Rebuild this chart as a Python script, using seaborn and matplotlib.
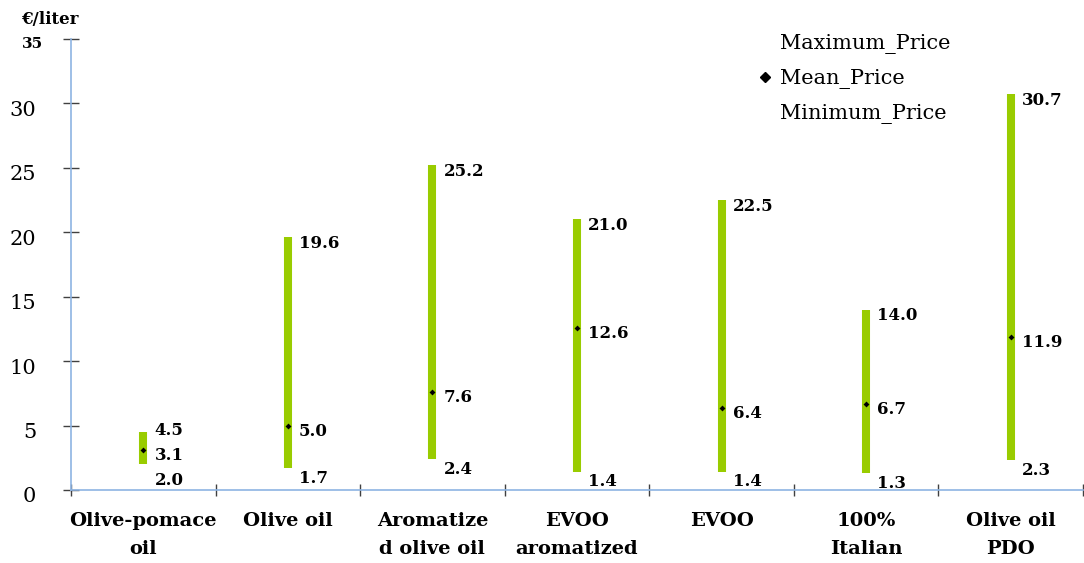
import numpy as np
import pandas as pd
import matplotlib
matplotlib.use("Agg")
import matplotlib.pyplot as plt
from matplotlib.lines import Line2D
from matplotlib.transforms import ScaledTranslation
import seaborn as sns

# Retail olive oil prices by category (EUR per liter)
categories = ["Olive-pomace\noil", "Olive oil", "Aromatize\nd olive oil",
              "EVOO\naromatized", "EVOO", "100%\nItalian", "Olive oil\nPDO"]
max_price = [4.5, 19.6, 25.2, 21.0, 22.5, 14.0, 30.7]
mean_price = [3.1, 5.0, 7.6, 12.6, 6.4, 6.7, 11.9]
min_price = [2.0, 1.7, 2.4, 1.4, 1.4, 1.3, 2.3]
y_ticks = [0, 5, 10, 15, 20, 25, 30, 35]

df = pd.DataFrame({"category": categories, "pos": np.arange(len(categories)),
                   "Maximum_Price": max_price, "Mean_Price": mean_price,
                   "Minimum_Price": min_price})

sns.set_theme(style="white")
plt.rcParams["font.family"] = ["DejaVu Serif"]
plt.rcParams["text.color"] = "black"
plt.rcParams["xtick.labelcolor"] = "black"
plt.rcParams["ytick.labelcolor"] = "black"

BAR_GREEN = "#99CC00"
SPINE_BLUE = "#8EB4E3"
TICK_GREY = "#404040"

fig = plt.figure(figsize=(10.84, 5.63), dpi=100)
ax = fig.add_axes([71 / 1084, 1 - 490 / 563, 1012 / 1084, 451 / 563])

# min-max range bars
ax.vlines(df["pos"], df["Minimum_Price"], df["Maximum_Price"],
          color=BAR_GREEN, linewidth=5.8, zorder=2)
# mean markers
sns.scatterplot(data=df, x="pos", y="Mean_Price", marker="D", color="black",
                s=9, linewidth=0, ax=ax, zorder=3)

ax.set_xlim(-0.5, len(categories) - 0.5)
ax.set_ylim(0, 35)
ax.set_xlabel("")
ax.set_ylabel("")

for side in ("top", "right"):
    ax.spines[side].set_visible(False)
for side in ("left", "bottom"):
    ax.spines[side].set_color(SPINE_BLUE)
    ax.spines[side].set_linewidth(1.2)

# y axis
ax.set_yticks(y_ticks)
ax.set_yticklabels([str(t) for t in y_ticks])
ax.tick_params(axis="y", left=True, direction="inout", length=12, width=1,
               color=TICK_GREY, labelsize=15, pad=19, labelcolor="black")
down = ScaledTranslation(0, -5 / 100, fig.dpi_scale_trans)
for lab in ax.get_yticklabels():
    lab.set_transform(lab.get_transform() + down)
top_lab = ax.get_yticklabels()[-1]
top_lab.set_fontsize(11)
top_lab.set_fontweight("bold")
top_lab.set_transform(top_lab.get_transform() + ScaledTranslation(7 / 100, 1 / 100, fig.dpi_scale_trans))

# x axis: boundary ticks, labels centred on categories
ax.set_xticks(np.arange(len(categories) + 1) - 0.5)
ax.set_xticklabels([])
ax.tick_params(axis="x", which="major", bottom=True, direction="inout",
               length=8, width=1, color=TICK_GREY)
ax.set_xticks(np.arange(len(categories)), minor=True)
ax.set_xticklabels(categories, minor=True, fontsize=14, fontweight="bold")
ax.tick_params(axis="x", which="minor", bottom=True, length=0, pad=16,
               labelcolor="black")

fig.text(50 / 1084, 1 - 20 / 563, "€/liter", ha="center", va="center",
         fontsize=12, fontweight="bold", color="black")

# value labels to the right of each bar, pushed apart when crowded
fig.canvas.draw()
for lab in ax.get_xticklabels(minor=True):
    lab.set_linespacing(1.7)
px_per_pt = fig.dpi / 72
min_gap = 25  # px
for i in range(len(categories)):
    vals = [max_price[i], mean_price[i], min_price[i]]
    base = [6, 5.5, 10]
    ys = [ax.transData.transform((i, v))[1] - b for v, b in zip(vals, base)]
    if ys[0] - ys[1] < min_gap:
        ys[0] = ys[1] + min_gap
    if ys[1] - ys[2] < min_gap:
        ys[2] = ys[1] - min_gap
    for v, y in zip(vals, ys):
        y0 = ax.transData.transform((i, v))[1]
        ax.annotate(f"{v:.1f}", xy=(i, v), xytext=(8, (y - y0) / px_per_pt),
                    textcoords="offset points", ha="left", va="center",
                    fontsize=12, fontweight="bold", color="black")

handles = [Line2D([], [], linestyle="none"),
           Line2D([], [], linestyle="none", marker="D", color="black",
                  markersize=5),
           Line2D([], [], linestyle="none")]
leg = fig.legend(handles, ["Maximum_Price", "Mean_Price", "Minimum_Price"],
                 loc="center left", bbox_to_anchor=(757 / 1084, 1 - 79 / 563),
                 frameon=False, fontsize=15, handlelength=0.8, handletextpad=0.3,
                 labelspacing=0.74, borderpad=0, borderaxespad=0)
for t in leg.get_texts():
    t.set_color("black")

fig.savefig("out.png", dpi=100)
